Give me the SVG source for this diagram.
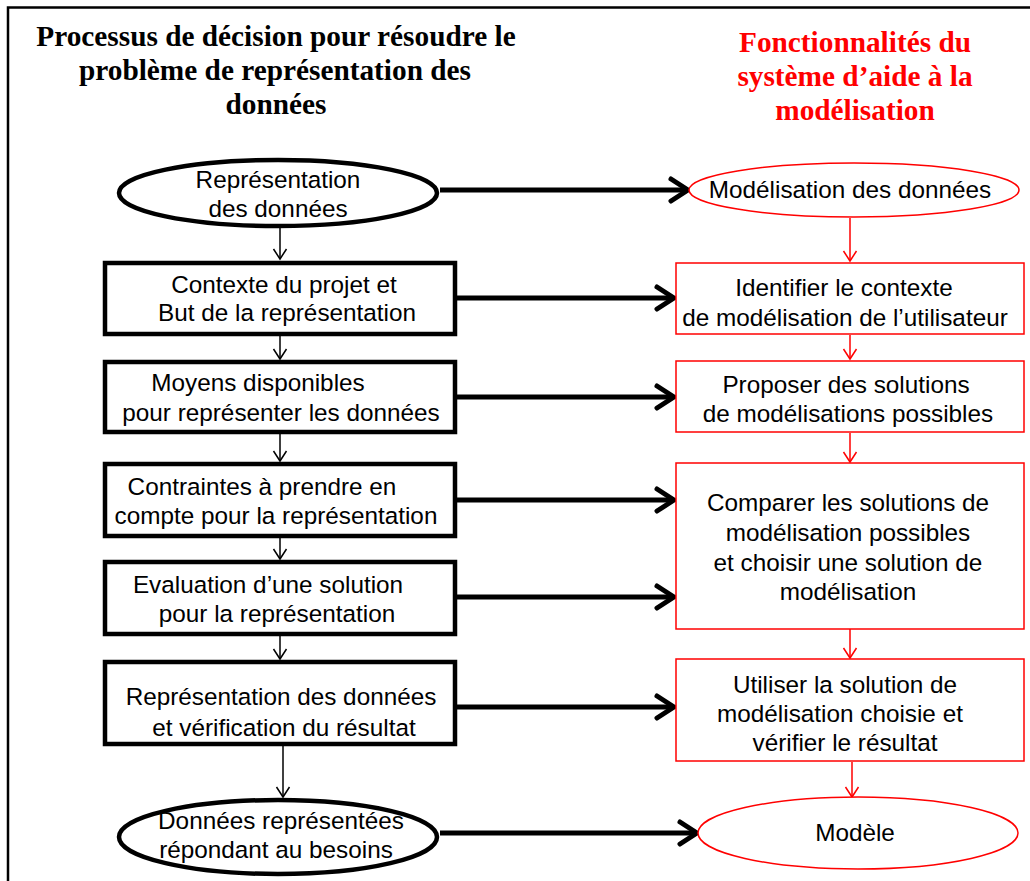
<svg xmlns="http://www.w3.org/2000/svg" width="1030" height="881" viewBox="0 0 1030 881">
<style>
.title{font-family:"Liberation Serif","Times New Roman",serif;font-weight:bold;font-size:29.3px;text-anchor:middle}
.tl{fill:#000}
.tr{fill:#ff0000}
.t{font-family:"Liberation Sans",Arial,sans-serif;font-size:24.3px;fill:#000;text-anchor:middle}
.bl{fill:#fff;stroke:#000;stroke-width:4.5}
.rd{fill:#fff;stroke:#ff0000;stroke-width:1.5}
.thick{stroke:#000;stroke-width:5;fill:none;marker-end:url(#ah)}
.thinb{stroke:#000;stroke-width:1.5;fill:none;marker-end:url(#as)}
.thinr{stroke:#ff0000;stroke-width:1.5;fill:none;marker-end:url(#ar)}
</style>
<defs>
<marker id="ah" markerUnits="userSpaceOnUse" viewBox="-20 -15 25 30" refX="0" refY="0" markerWidth="25" markerHeight="30" orient="auto" overflow="visible">
<path d="M-17,-11 L0,0 L-17,11" fill="none" stroke="#000" stroke-width="5" stroke-linecap="round" stroke-linejoin="round"/>
</marker>
<marker id="as" markerUnits="userSpaceOnUse" viewBox="-12 -8 14 16" refX="0" refY="0" markerWidth="14" markerHeight="16" orient="auto" overflow="visible">
<path d="M-10,-6.5 L0,0 L-10,6.5" fill="none" stroke="#000" stroke-width="1.5"/>
</marker>
<marker id="ar" markerUnits="userSpaceOnUse" viewBox="-12 -8 14 16" refX="0" refY="0" markerWidth="14" markerHeight="16" orient="auto" overflow="visible">
<path d="M-10,-6.5 L0,0 L-10,6.5" fill="none" stroke="#ff0000" stroke-width="1.5"/>
</marker>
</defs>
<rect width="1030" height="881" fill="#fff"/>
<path d="M8,890 L8,7.5 L1040,7.5" fill="none" stroke="#000" stroke-width="2.5"/>
<g id="titles">
<text class="title tl" x="276" y="46">Processus de décision pour résoudre le</text>
<text class="title tl" x="275" y="80">problème de représentation des</text>
<text class="title tl" x="276" y="114">données</text>
<text class="title tr" x="855" y="52">Fonctionnalités du</text>
<text class="title tr" x="855" y="86">système d’aide à la</text>
<text class="title tr" x="855" y="120">modélisation</text>
</g>
<g id="connectors">
<line class="thinb" x1="280" y1="227" x2="280" y2="259"/>
<line class="thinb" x1="280" y1="336" x2="280" y2="359"/>
<line class="thinb" x1="280" y1="434" x2="280" y2="461"/>
<line class="thinb" x1="280" y1="538" x2="280" y2="559"/>
<line class="thinb" x1="280" y1="636" x2="280" y2="659"/>
<line class="thinb" x1="283" y1="746" x2="283" y2="797"/>
<line class="thinr" x1="850" y1="218" x2="850" y2="261"/>
<line class="thinr" x1="850" y1="335" x2="850" y2="359"/>
<line class="thinr" x1="850" y1="433" x2="850" y2="462"/>
<line class="thinr" x1="850" y1="629" x2="850" y2="658"/>
<line class="thinr" x1="852" y1="762" x2="852" y2="797"/>
<line class="thick" x1="440" y1="190" x2="688" y2="190"/>
<line class="thick" x1="457" y1="298" x2="674" y2="298"/>
<line class="thick" x1="457" y1="397" x2="674" y2="397"/>
<line class="thick" x1="457" y1="500" x2="674" y2="500"/>
<line class="thick" x1="457" y1="597" x2="674" y2="597"/>
<line class="thick" x1="457" y1="707" x2="674" y2="707"/>
<line class="thick" x1="440" y1="833" x2="697" y2="833"/>
</g>
<g id="n1">
<ellipse class="bl" cx="278" cy="193" rx="159" ry="33"/>
<text class="t" x="278" y="188">Représentation</text>
<text class="t" x="278" y="217">des données</text>
</g>
<g id="n2">
<rect class="bl" x="105" y="263" width="350" height="71"/>
<text class="t" x="284" y="293">Contexte du projet et</text>
<text class="t" x="287" y="321">But de la représentation</text>
</g>
<g id="n3">
<rect class="bl" x="105" y="362" width="350" height="70"/>
<text class="t" x="258" y="391">Moyens disponibles</text>
<text class="t" x="281" y="421">pour représenter les données</text>
</g>
<g id="n4">
<rect class="bl" x="105" y="464" width="350" height="72"/>
<text class="t" x="262" y="495">Contraintes à prendre en</text>
<text class="t" x="276" y="524">compte pour la représentation</text>
</g>
<g id="n5">
<rect class="bl" x="105" y="562" width="350" height="72"/>
<text class="t" x="268" y="593">Evaluation d’une solution</text>
<text class="t" x="277" y="622">pour la représentation</text>
</g>
<g id="n6">
<rect class="bl" x="105" y="662" width="350" height="82"/>
<text class="t" x="281" y="705">Représentation des données</text>
<text class="t" x="284" y="736">et vérification du résultat</text>
</g>
<g id="n7">
<ellipse class="bl" cx="278" cy="837" rx="159" ry="37"/>
<text class="t" x="281" y="829">Données représentées</text>
<text class="t" x="276" y="858">répondant au besoins</text>
</g>
<g id="r1">
<ellipse class="rd" cx="854" cy="190" rx="165" ry="27"/>
<text class="t" x="850" y="198">Modélisation des données</text>
</g>
<g id="r2">
<rect class="rd" x="676" y="263" width="348" height="71"/>
<text class="t" x="844" y="296">Identifier le contexte</text>
<text class="t" x="845" y="326">de modélisation de l’utilisateur</text>
</g>
<g id="r3">
<rect class="rd" x="676" y="361" width="348" height="71"/>
<text class="t" x="846" y="393">Proposer des solutions</text>
<text class="t" x="848" y="422">de modélisations possibles</text>
</g>
<g id="r4">
<rect class="rd" x="676" y="463" width="348" height="166"/>
<text class="t" x="848" y="511">Comparer les solutions de</text>
<text class="t" x="848" y="541">modélisation possibles</text>
<text class="t" x="848" y="571">et choisir une solution de</text>
<text class="t" x="848" y="600">modélisation</text>
</g>
<g id="r5">
<rect class="rd" x="676" y="659" width="348" height="102"/>
<text class="t" x="845" y="693">Utiliser la solution de</text>
<text class="t" x="840" y="722">modélisation choisie et</text>
<text class="t" x="845" y="751">vérifier le résultat</text>
</g>
<g id="r6">
<ellipse class="rd" cx="858" cy="833" rx="160" ry="36"/>
<text class="t" x="855" y="841">Modèle</text>
</g>
</svg>
